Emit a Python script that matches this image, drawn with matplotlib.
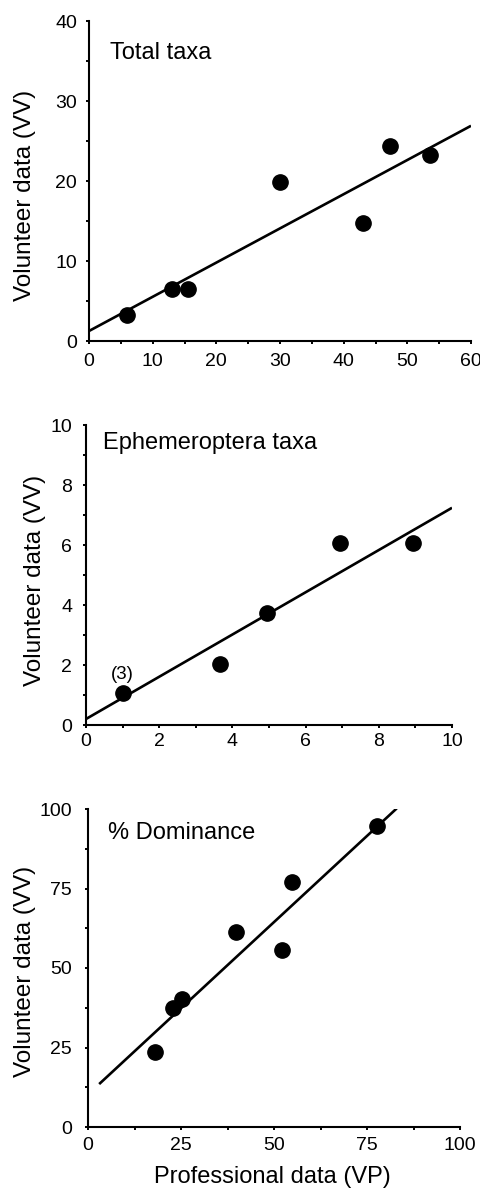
import numpy as np
import matplotlib
matplotlib.use("Agg")
import matplotlib.pyplot as plt
from matplotlib.ticker import MultipleLocator

plt.rcParams['font.family'] = ['Liberation Sans', 'DejaVu Sans']

# panel 1: total taxa
total_vp = [6, 13, 15.5, 30, 43, 47.3, 53.5]
total_vv = [3.3, 6.5, 6.5, 19.9, 14.7, 24.4, 23.3]
total_fit_x = [0, 60]
total_fit_y = [1.25, 26.9]

# panel 2: ephemeroptera taxa
ephem_vp = [1, 3.66, 4.94, 6.94, 8.94]
ephem_vv = [1.06, 2.03, 3.72, 6.08, 6.08]
ephem_fit_x = [0, 10]
ephem_fit_y = [0.2, 7.24]

# panel 3: % dominance
dom_vp = [18.0, 22.9, 25.2, 39.7, 52.1, 54.8, 77.6]
dom_vv = [23.7, 37.3, 40.4, 61.4, 55.8, 77.1, 94.5]
dom_fit_x = [3, 83]
dom_fit_y = [13.5, 100.2]

W, H = 480, 1195
fig = plt.figure(figsize=(W / 100, H / 100), dpi=100)


def makeAxes(left, right, top, bottom):
    # pixel box -> figure fraction
    return fig.add_axes([left / W, 1 - bottom / H, (right - left) / W, (bottom - top) / H])


def stylePanel(ax, xmax, xmaj, ymax, ymaj, xpad, ypad):
    ax.set_xlim(0, xmax)
    ax.set_ylim(0, ymax)
    ax.xaxis.set_major_locator(MultipleLocator(xmaj))
    ax.xaxis.set_minor_locator(MultipleLocator(xmaj / 2))
    ax.yaxis.set_major_locator(MultipleLocator(ymaj))
    ax.yaxis.set_minor_locator(MultipleLocator(ymaj / 2))
    for s in ['top', 'right']:
        ax.spines[s].set_visible(False)
    for s in ['left', 'bottom']:
        ax.spines[s].set_linewidth(1.5)
    ax.tick_params(which='both', direction='out', length=2.5, width=1.4, labelsize=14)
    ax.tick_params(axis='x', which='major', pad=xpad)
    ax.tick_params(axis='y', which='major', pad=ypad)


def drawPanel(ax, vp, vv, fx, fy):
    ax.plot(fx, fy, color='black', linewidth=1.9, solid_capstyle='butt')
    ax.plot(vp, vv, 'o', color='black', markersize=11, clip_on=False, zorder=3)


# total taxa
ax1 = makeAxes(89, 471, 21, 341)
stylePanel(ax1, 60, 10, 40, 10, 6.5, 6)
drawPanel(ax1, total_vp, total_vv, total_fit_x, total_fit_y)
ax1.text(0.055, 0.90, 'Total taxa', transform=ax1.transAxes, fontsize=17, va='center', ha='left')
ax1.set_ylabel('Volunteer data (VV)', fontsize=17.5, va='center')
ax1.yaxis.set_label_coords(-0.168, 0.455)

# ephemeroptera
ax2 = makeAxes(86, 452, 425, 725)
stylePanel(ax2, 10, 2, 10, 2, 3, 7.5)
drawPanel(ax2, ephem_vp, ephem_vv, ephem_fit_x, ephem_fit_y)
ax2.text(0.046, 0.94, 'Ephemeroptera taxa', transform=ax2.transAxes, fontsize=17, va='center', ha='left')
ax2.text(ephem_vp[0], 1.67, '(3)', fontsize=13.5, ha='center', va='center')
ax2.set_ylabel('Volunteer data (VV)', fontsize=17.5, va='center')
ax2.yaxis.set_label_coords(-0.139, 0.483)

# % dominance
ax3 = makeAxes(88, 460, 809, 1127)
stylePanel(ax3, 100, 25, 100, 25, 4.5, 9)
drawPanel(ax3, dom_vp, dom_vv, dom_fit_x, dom_fit_y)
ax3.text(0.054, 0.925, '% Dominance', transform=ax3.transAxes, fontsize=17, va='center', ha='left')
ax3.set_ylabel('Volunteer data (VV)', fontsize=17.5, va='center')
ax3.yaxis.set_label_coords(-0.169, 0.488)
ax3.set_xlabel('Professional data (VP)', fontsize=17, va='center')
ax3.xaxis.set_label_coords(0.495, -0.157)

fig.savefig('out.png', dpi=100)
